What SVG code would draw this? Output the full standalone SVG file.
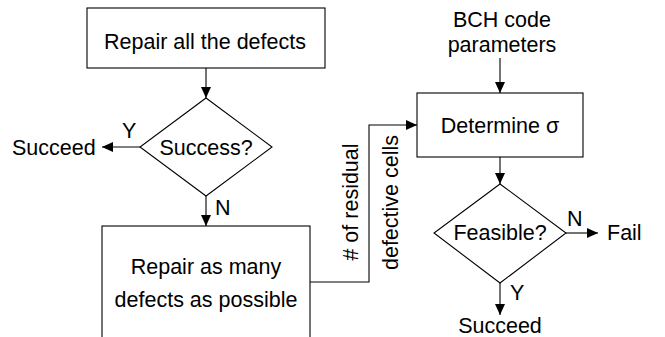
<svg xmlns="http://www.w3.org/2000/svg" width="665" height="337" viewBox="0 0 665 337">
<style>
.box{fill:#fff;stroke:#000;stroke-width:1.1}
.ln{fill:none;stroke:#000;stroke-width:1.1;marker-end:url(#ah)}
text{font-family:"Liberation Sans",Arial,sans-serif;font-size:21.5px;fill:#000}
.c{text-anchor:middle}
</style>
<defs>
<marker id="ah" markerUnits="userSpaceOnUse" markerWidth="12" markerHeight="10" refX="11" refY="5" orient="auto">
<path d="M0,0 L11,5 L0,10 z" fill="#000"/>
</marker>
</defs>
<rect width="665" height="337" fill="#fff"/>
<g id="connectors">
<path class="ln" d="M206,68 V98"/>
<path class="ln" d="M140,147 H102"/>
<path class="ln" d="M206,196 V226"/>
<path class="ln" d="M310,282 H369 V125 H417"/>
<path class="ln" d="M500,58 V93"/>
<path class="ln" d="M500,157 V184"/>
<path class="ln" d="M566,233 H598"/>
<path class="ln" d="M500,283 V315"/>
</g>
<g id="repair-all">
<rect class="box" x="87" y="8" width="238" height="60"/>
<text class="c" x="205" y="49">Repair all the defects</text>
</g>
<g id="success">
<polygon class="box" points="206,98 272,147 206,196 140,147"/>
<text class="c" x="206" y="155">Success?</text>
</g>
<g id="succeed-left">
<text x="12" y="155">Succeed</text>
</g>
<g id="label-y1"><text x="122" y="138">Y</text></g>
<g id="label-n1"><text x="215" y="215">N</text></g>
<g id="repair-many">
<rect class="box" x="102" y="226" width="208" height="140"/>
<text class="c" x="206" y="274">Repair as many</text>
<text class="c" x="206" y="307">defects as possible</text>
</g>
<g id="residual-label">
<text class="c" transform="translate(358,202) rotate(-90)"># of residual</text>
<text class="c" transform="translate(398,202.5) rotate(-90)">defective cells</text>
</g>
<g id="bch">
<text class="c" x="502" y="27">BCH code</text>
<text class="c" x="502" y="52">parameters</text>
</g>
<g id="determine">
<rect class="box" x="417" y="93" width="166" height="64"/>
<text class="c" x="500" y="133">Determine σ</text>
</g>
<g id="feasible">
<polygon class="box" points="500,184 566,233 500,283 434,233"/>
<text class="c" x="500" y="240">Feasible?</text>
</g>
<g id="label-n2"><text x="567" y="226">N</text></g>
<g id="fail"><text x="607" y="240">Fail</text></g>
<g id="label-y2"><text x="510" y="300">Y</text></g>
<g id="succeed-bottom"><text class="c" x="500" y="333">Succeed</text></g>
</svg>
